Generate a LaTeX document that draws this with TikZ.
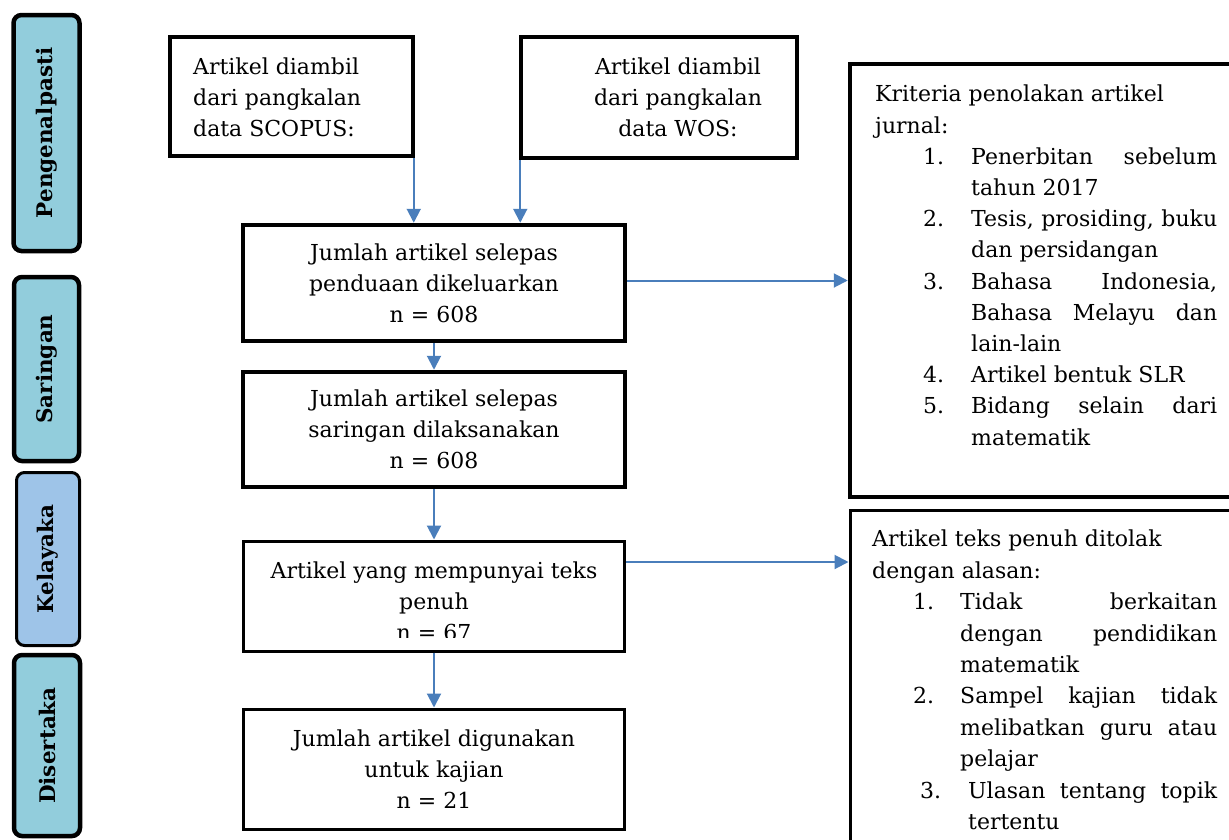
\documentclass[tikz,border=0pt]{standalone}
\usepackage{fontspec}
\setmainfont{DejaVu Serif}
\usetikzlibrary{arrows.meta,calc}
\definecolor{arrowblue}{RGB}{74,126,187}
\definecolor{stageaqua}{RGB}{146,205,220}
\definecolor{stageblue}{RGB}{158,196,232}
\tikzset{
  txt/.style={font=\fontsize{22}{31.2}\selectfont, inner sep=0pt},
  stagebox/.style={draw=black, line width=4.5pt, rounded corners=8pt, fill=stageaqua,
     font=\fontsize{21.5}{24}\selectfont\bfseries, rotate=90, inner sep=0pt},
  thickbox/.style={draw=black, line width=4.5pt, inner sep=0pt, font=\fontsize{22}{31.2}\selectfont, align=center},
  thinbox/.style={draw=black, line width=3pt, inner sep=0pt, font=\fontsize{22}{31.2}\selectfont, align=center},
  arr/.style={draw=arrowblue, line width=2pt, -{Triangle[length=14pt,width=14pt]}}
}
\begin{document}
\begin{tikzpicture}[x=1pt,y=-1pt]
\useasboundingbox (0,0) rectangle (1229,839);
% stage labels
\node[stagebox, minimum width=236pt, minimum height=66pt] (s1) at (46.5,133) {Pengenalpasti};
\node[stagebox, minimum width=184pt, minimum height=65pt] (s2) at (46.5,369) {Saringan};
\node[stagebox, line width=3pt, fill=stageblue, minimum width=173pt, minimum height=63pt] (s3) at (48,559) {Kelayaka};
\node[stagebox, minimum width=181pt, minimum height=66pt] (s4) at (47,745.5) {Disertaka};
% top boxes
\node[thickbox, minimum width=243pt, minimum height=119pt] (scopus) at (291.5,96.5) {};
\node[txt, align=left, anchor=west] (scopustext) at (193,97) {Artikel diambil\\dari pangkalan\\data SCOPUS:};
\node[thickbox, minimum width=276pt, minimum height=121pt] (wos) at (659,97.5) {};
\node[txt, align=center] (wostext) at (678,97) {Artikel diambil\\dari pangkalan\\data WOS:};
% flow boxes
\node[thickbox, minimum width=382pt, minimum height=116pt] (dup) at (434,283) {Jumlah artikel selepas\\penduaan dikeluarkan\\n = 608};
\node[thickbox, minimum width=382pt, minimum height=115pt] (screen) at (434,429.5) {Jumlah artikel selepas\\saringan dilaksanakan\\n = 608};
\begin{scope}
\clip (243,541) rectangle (624,637);
\node[txt, align=center] (fulltext) at (434,601) {Artikel yang mempunyai teks\\penuh\\n = 67};
\end{scope}
\node[thinbox, minimum width=381pt, minimum height=110pt] (full) at (434,596) {};
\node[thinbox, minimum width=381pt, minimum height=120pt] (incl) at (434,769) {Jumlah artikel digunakan\\untuk kajian\\n = 21};
% right boxes
\node[thickbox, minimum width=400pt, minimum height=433pt] (kriteria) at (1050,280.5) {};
\node[txt, align=left, anchor=north west] (kriteriatext) at (875,85) {Kriteria penolakan artikel\\
jurnal:\\
\hspace*{48pt}\makebox[48pt][l]{1.}\makebox[246pt][s]{Penerbitan sebelum}\\
\hspace*{96pt}tahun 2017\\
\hspace*{48pt}\makebox[48pt][l]{2.}\makebox[246pt][s]{Tesis, prosiding, buku}\\
\hspace*{96pt}dan persidangan\\
\hspace*{48pt}\makebox[48pt][l]{3.}\makebox[246pt][s]{Bahasa Indonesia,}\\
\hspace*{96pt}\makebox[246pt][s]{Bahasa Melayu dan}\\
\hspace*{96pt}lain-lain\\
\hspace*{48pt}\makebox[48pt][l]{4.}Artikel bentuk SLR\\
\hspace*{48pt}\makebox[48pt][l]{5.}\makebox[246pt][s]{Bidang selain dari}\\
\hspace*{96pt}matematik};
\node[thinbox, minimum width=400pt, minimum height=350pt] (tolak) at (1050,685) {};
\node[txt, align=left, anchor=north west, font=\fontsize{22}{31.4}\selectfont] (tolaktext) at (872,530) {Artikel teks penuh ditolak\\
dengan alasan:\\
\hspace*{41pt}\makebox[47pt][l]{1.}\makebox[257pt][s]{Tidak berkaitan}\\
\hspace*{88pt}\makebox[257pt][s]{dengan pendidikan}\\
\hspace*{88pt}matematik\\
\hspace*{41pt}\makebox[47pt][l]{2.}\makebox[257pt][s]{Sampel kajian tidak}\\
\hspace*{88pt}\makebox[257pt][s]{melibatkan guru atau}\\
\hspace*{88pt}pelajar\\
\hspace*{48pt}\makebox[48pt][l]{3.}\makebox[249pt][s]{Ulasan tentang topik}\\
\hspace*{96pt}tertentu};
% arrows
\draw[arr] ([xshift=-1.5pt]scopus.south east) -- ([xshift=-1.5pt]scopus.south east |- dup.north);
\draw[arr] ([xshift=1.5pt]wos.south west) -- ([xshift=1.5pt]wos.south west |- dup.north);
\draw[arr] (dup.south) -- (screen.north);
\draw[arr] (screen.south) -- (full.north);
\draw[arr] (full.south) -- (incl.north);
\draw[arr] (dup.east |- kriteria.west) -- (kriteria.west);
\draw[arr] ([yshift=34pt]full.east) coordinate (a5) -- (a5 -| tolak.west);
\end{tikzpicture}
\end{document}
